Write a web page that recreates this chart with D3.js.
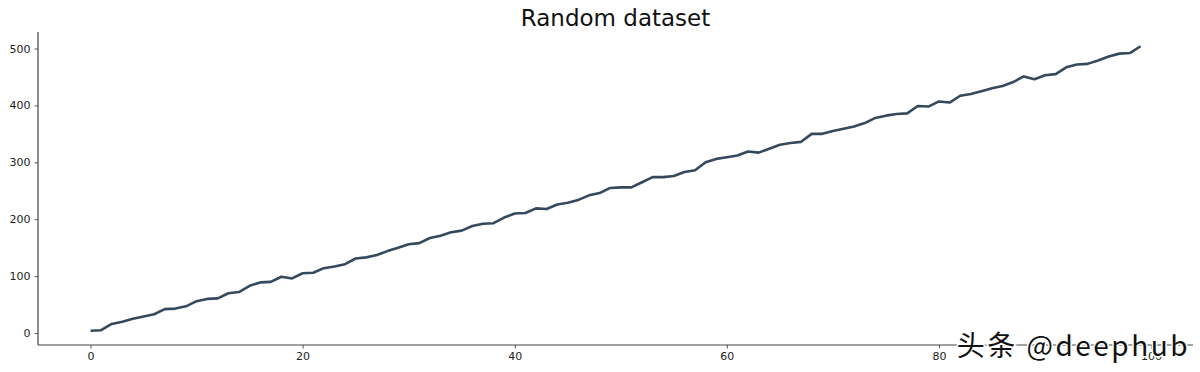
<!DOCTYPE html>
<html lang="en">
<head>
    <meta charset="UTF-8">
    <title>Random dataset</title>
    <style>
        body {
            margin: 0;
            background: #ffffff;
            overflow: hidden;
        }
        svg {
            display: block;
            font-family: "DejaVu Sans", sans-serif;
        }
        .tick text {
            font-size: 11px;
            fill: #222;
        }
        .title {
            font-size: 23px;
            fill: #111;
        }
        .watermark {
            font-family: "Noto Sans CJK SC", sans-serif;
            font-size: 28px;
            letter-spacing: 2.5px;
            fill: #111;
            stroke: #ffffff;
            stroke-width: 3px;
            paint-order: stroke;
        }
    </style>
</head>
<body>
<svg width="1200" height="372"></svg>

<script src="https://d3js.org/d3.v7.min.js"></script>
<script>
    // values, one per x step (0..99)
    const values = [
        4, 5, 16, 20, 25, 29, 33, 42, 43, 47,
        56, 60, 61, 70, 72, 83, 89, 90, 99, 96,
        105, 106, 114, 117, 121, 131, 133, 137, 144, 150,
        156, 158, 167, 171, 177, 180, 188, 192, 193, 203,
        210, 211, 219, 218, 226, 229, 234, 242, 246, 255,
        256, 256, 265, 274, 274, 276, 283, 286, 300, 306,
        309, 312, 319, 317, 324, 331, 334, 336, 350, 350,
        355, 359, 363, 369, 378, 382, 385, 386, 399, 398,
        407, 405, 417, 420, 425, 430, 434, 441, 451, 446,
        453, 455, 467, 472, 473, 479, 486, 491, 492, 504
    ];
    const xTicks = [0, 20, 40, 60, 80, 100];
    const yTicks = [0, 100, 200, 300, 400, 500];

    const svg = d3.select("svg");
    const margin = {left: 38, right: 7, top: 32, bottom: 27};
    const width = 1200, height = 372;

    // matplotlib style 5% padding on both axes
    const xPad = (values.length - 1) * 0.05;
    const yMin = d3.min(values), yMax = d3.max(values);
    const yPad = (yMax - yMin) * 0.05;

    const x = d3.scaleLinear()
        .domain([-xPad, values.length - 1 + xPad])
        .range([margin.left, width - margin.right]);
    const y = d3.scaleLinear()
        .domain([yMin - yPad, yMax + yPad])
        .range([height - margin.bottom, margin.top]);

    // axes
    const xAxis = svg.append("g")
        .attr("transform", `translate(0,${height - margin.bottom})`)
        .call(d3.axisBottom(x).tickValues(xTicks).tickSize(3.5).tickPadding(4));
    const yAxis = svg.append("g")
        .attr("transform", `translate(${margin.left},0)`)
        .call(d3.axisLeft(y).tickValues(yTicks).tickSize(3.5).tickPadding(4));

    [xAxis, yAxis].forEach(g => {
        g.select(".domain").attr("stroke", "#444").attr("stroke-width", 1.2);
        g.selectAll(".tick line").attr("stroke", "#444").attr("stroke-width", 0.9);
        g.selectAll(".tick text").attr("font-family", "DejaVu Sans");
    });
    // no outer ticks like matplotlib spines
    xAxis.select(".domain").attr("d", `M${x.range()[0]},0H${x.range()[1]}`);
    yAxis.select(".domain").attr("d", `M0,${y.range()[0]}V${y.range()[1]}`);

    // the line
    const line = d3.line()
        .x((d, i) => x(i))
        .y(d => y(d));

    svg.append("path")
        .datum(values)
        .attr("fill", "none")
        .attr("stroke", "#34495e")
        .attr("stroke-width", 2.6)
        .attr("stroke-linejoin", "round")
        .attr("d", line);

    // title
    svg.append("text")
        .attr("class", "title")
        .attr("x", (margin.left + width - margin.right) / 2)
        .attr("y", 26)
        .attr("text-anchor", "middle")
        .text("Random dataset");

    // watermark (sits over the axis and the "100" label, as in the source)
    svg.append("text")
        .attr("class", "watermark")
        .attr("x", 1190)
        .attr("y", 356)
        .attr("text-anchor", "end")
        .text("头条 @deephub");
</script>
</body>
</html>
